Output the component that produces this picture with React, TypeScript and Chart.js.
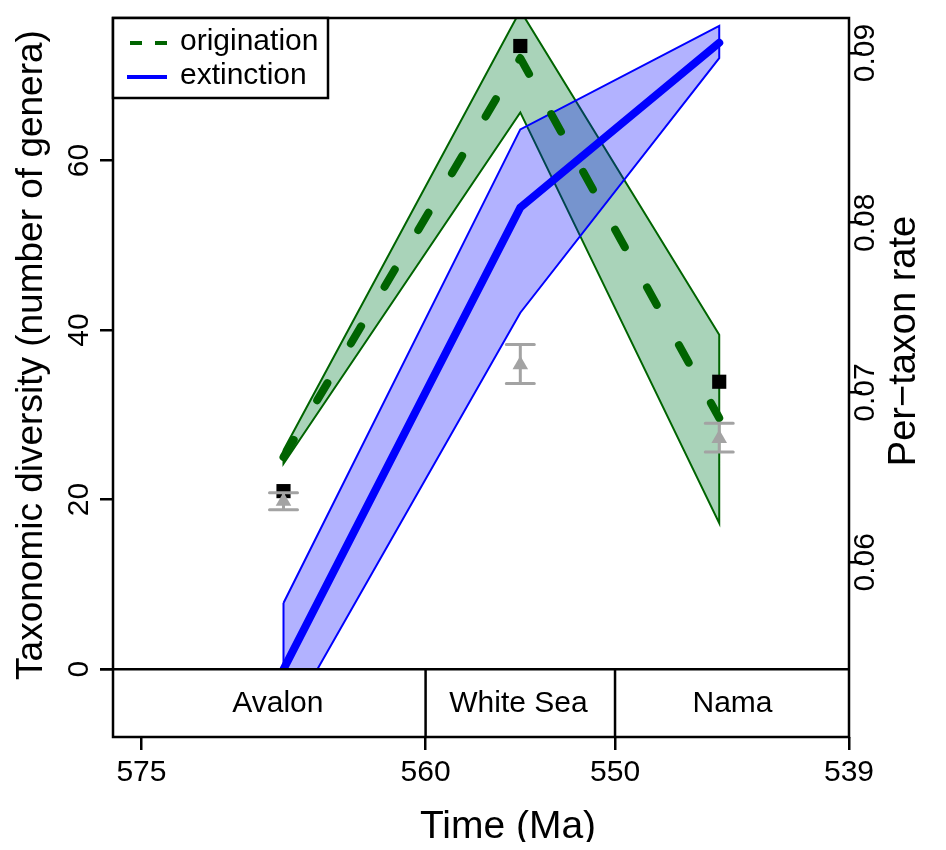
import React, { useEffect, useRef } from "react";
import { Chart, registerables } from "chart.js";

Chart.register(...registerables);

// ---------- data ----------
const stageNames = ["Avalon", "White Sea", "Nama"];
const stageBounds = [575, 560, 550, 539];
const stageLabelAt = [567.8, 555.1, 543.8];
const stageMid = [567.5, 555, 544.5];

const xTickValues = [575, 560, 550, 537.65];
const xTickLabels = ["575", "560", "550", "539"];
const leftTicks = [0, 20, 40, 60];
const rightTicks = [0.06, 0.07, 0.08, 0.09];
const rightTickLabels = ["0.06", "0.07", "0.08", "0.09"];

// per-taxon rates (right axis)
const originationRate = [0.0662, 0.0897, 0.0685];
const originationUpper = [0.0666, 0.0925, 0.0734];
const originationLower = [0.0658, 0.0865, 0.0623];
const extinctionRate = [0.0537, 0.0809, 0.0906];
const extinctionUpper = [0.0576, 0.0855, 0.0916];
const extinctionLower = [0.0502, 0.0747, 0.0897];

// diversity (left axis)
const observedGenera = [21.0, 73.5, 33.9];
const estimatedGenera = [19.8, 35.9, 27.2];
const estimatedLow = [18.8, 33.7, 25.6];
const estimatedHigh = [20.8, 38.3, 29.0];

const legendLabels = ["origination", "extinction"];

// ---------- styles ----------
const FONT = "'Liberation Sans', Arial, Helvetica, sans-serif";
const GREEN = "#006400";
const GREEN_FILL = "rgba(30,140,70,0.38)";
const BLUE = "#0000ff";
const BLUE_FILL = "rgba(0,0,255,0.3)";
const GREY = "#a3a3a3";

function polygon(upper: number[], lower: number[]) {
  const pts: { x: number; y: number }[] = stageMid.map((x, i) => ({ x, y: upper[i] }));
  for (let i = stageMid.length - 1; i >= 0; i--) pts.push({ x: stageMid[i], y: lower[i] });
  pts.push({ ...pts[0] });
  return pts;
}

const decorPlugin = {
  id: "decor",
  afterDatasetsDraw(chart: any) {
    const { ctx, chartArea: a, scales } = chart;
    const xs = scales.x;
    const yL = scales.y;
    const yR = scales.y1;
    ctx.save();

    // error bars
    ctx.strokeStyle = GREY;
    ctx.lineWidth = 3;
    ctx.lineCap = "round";
    stageMid.forEach((m, i) => {
      const px = xs.getPixelForValue(m);
      const t = yL.getPixelForValue(estimatedHigh[i]);
      const b = yL.getPixelForValue(estimatedLow[i]);
      ctx.beginPath();
      ctx.moveTo(px, t);
      ctx.lineTo(px, b);
      ctx.moveTo(px - 14, t);
      ctx.lineTo(px + 14, t);
      ctx.moveTo(px - 14, b);
      ctx.lineTo(px + 14, b);
      ctx.stroke();
    });
    ctx.lineCap = "butt";

    // stage band
    const y0 = yL.getPixelForValue(0);
    ctx.fillStyle = "#ffffff";
    ctx.fillRect(a.left, y0, a.right - a.left, a.bottom - y0);
    ctx.strokeStyle = "#000";
    ctx.lineWidth = 2.5;
    ctx.beginPath();
    ctx.moveTo(a.left - 13, y0);
    ctx.lineTo(a.right, y0);
    stageBounds.slice(1, -1).forEach((bv) => {
      const px = xs.getPixelForValue(bv);
      ctx.moveTo(px, y0);
      ctx.lineTo(px, a.bottom);
    });
    ctx.stroke();
    ctx.fillStyle = "#000";
    ctx.font = `30px ${FONT}`;
    ctx.textAlign = "center";
    ctx.textBaseline = "middle";
    stageNames.forEach((name, i) => {
      ctx.fillText(name, xs.getPixelForValue(stageLabelAt[i]), (y0 + a.bottom) / 2 + 1);
    });

    // frame
    ctx.strokeRect(a.left, a.top, a.right - a.left, a.bottom - a.top);

    // legend
    const lx = a.left, ly = a.top, lw = 215, lh = 80;
    ctx.fillStyle = "#fff";
    ctx.fillRect(lx, ly, lw, lh);
    ctx.strokeRect(lx, ly, lw, lh);
    ctx.lineWidth = 4;
    ctx.strokeStyle = GREEN;
    ctx.setLineDash([12, 13]);
    ctx.beginPath();
    ctx.moveTo(lx + 17, ly + 25);
    ctx.lineTo(lx + 54, ly + 25);
    ctx.stroke();
    ctx.setLineDash([]);
    ctx.strokeStyle = BLUE;
    ctx.beginPath();
    ctx.moveTo(lx + 14, ly + 59);
    ctx.lineTo(lx + 54, ly + 59);
    ctx.stroke();
    ctx.fillStyle = "#000";
    ctx.textAlign = "left";
    ctx.font = `30px ${FONT}`;
    ctx.fillText(legendLabels[0], lx + 67, ly + 24);
    ctx.fillText(legendLabels[1], lx + 67, ly + 58);

    // y tick labels (rotated, like R)
    ctx.textAlign = "center";
    ctx.textBaseline = "middle";
    leftTicks.forEach((v) => {
      const py = yL.getPixelForValue(v);
      ctx.save();
      ctx.translate(a.left - 33, py);
      ctx.rotate(-Math.PI / 2);
      ctx.fillText(String(v), 0, 0);
      ctx.restore();
    });
    rightTicks.forEach((v, i) => {
      const py = yR.getPixelForValue(v);
      ctx.save();
      ctx.translate(a.right + 17, py);
      ctx.rotate(-Math.PI / 2);
      ctx.fillText(rightTickLabels[i], 0, 0);
      ctx.restore();
    });

    // axis titles
    ctx.font = `37px ${FONT}`;
    ctx.save();
    ctx.translate(24, 347);
    ctx.rotate(-Math.PI / 2);
    ctx.fillText("Taxonomic diversity (number of genera)", 0, 0);
    ctx.restore();
    ctx.font = `38px ${FONT}`;
    ctx.save();
    ctx.translate(a.right + 56, 333);
    ctx.rotate(-Math.PI / 2);
    ctx.fillText("Per\u2212taxon rate", 0, 0);
    ctx.restore();
    ctx.font = `39px ${FONT}`;
    ctx.fillText("Time (Ma)", (a.left + a.right) / 2 + 27, chart.height - 15);

    ctx.restore();
  },
};

export default function App() {
  const ref = useRef<HTMLCanvasElement | null>(null);

  useEffect(() => {
    if (!ref.current) return;
    const tickGrid = {
      display: true,
      drawOnChartArea: false,
      drawTicks: true,
      tickLength: 13,
      color: "#000",
      lineWidth: 2.5,
    };
    const chart = new Chart(ref.current, {
      type: "line",
      data: {
        datasets: [
          {
            label: "estimated",
            data: stageMid.map((x, i) => ({ x, y: estimatedGenera[i] })),
            yAxisID: "y",
            showLine: false,
            pointStyle: "triangle",
            pointRadius: 9,
            pointBackgroundColor: GREY,
            pointBorderWidth: 0,
            pointBorderColor: GREY,
          },
          {
            label: "observed",
            data: stageMid.map((x, i) => ({ x, y: observedGenera[i] })),
            yAxisID: "y",
            showLine: false,
            pointStyle: "rect",
            pointRadius: 10,
            pointBackgroundColor: "#000",
            pointBorderWidth: 0,
            pointBorderColor: "#000",
          },
          {
            label: legendLabels[0],
            data: stageMid.map((x, i) => ({ x, y: originationRate[i] })),
            yAxisID: "y1",
            borderColor: GREEN,
            borderWidth: 8,
            borderDash: [20, 46],
            borderCapStyle: "round",
            borderJoinStyle: "round",
            pointRadius: 0,
            fill: false,
            tension: 0,
          },
          {
            label: legendLabels[1],
            data: stageMid.map((x, i) => ({ x, y: extinctionRate[i] })),
            yAxisID: "y1",
            borderColor: BLUE,
            borderWidth: 8,
            borderCapStyle: "round",
            borderJoinStyle: "round",
            pointRadius: 0,
            fill: false,
            tension: 0,
          },
          {
            label: "extinction band",
            data: polygon(extinctionUpper, extinctionLower),
            yAxisID: "y1",
            borderColor: BLUE,
            borderWidth: 2,
            backgroundColor: BLUE_FILL,
            fill: "shape",
            pointRadius: 0,
            tension: 0,
          },
          {
            label: "origination band",
            data: polygon(originationUpper, originationLower),
            yAxisID: "y1",
            borderColor: GREEN,
            borderWidth: 2,
            backgroundColor: GREEN_FILL,
            fill: "shape",
            pointRadius: 0,
            tension: 0,
          },
        ] as any,
      },
      options: {
        responsive: false,
        animation: false,
        devicePixelRatio: 1,
        layout: { padding: { top: 9, left: 0, right: 0, bottom: 0 } },
        plugins: { legend: { display: false }, tooltip: { enabled: false } },
        events: [],
        elements: { line: { clip: 0 } as any },
        scales: {
          x: {
            type: "linear",
            position: "bottom",
            reverse: true,
            min: 537.65,
            max: 576.5,
            grid: tickGrid,
            border: { display: false },
            afterBuildTicks: (s: any) => {
              s.ticks = xTickValues.map((v) => ({ value: v }));
            },
            afterFit: (s: any) => {
              s.height = 105;
            },
            ticks: {
              autoSkip: false,
              maxRotation: 0,
              minRotation: 0,
              padding: 5,
              color: "#000",
              font: { size: 30, family: FONT },
              callback: (_v: any, i: number) => xTickLabels[i],
            },
          },
          y: {
            type: "linear",
            position: "left",
            min: -8.0,
            max: 76.8,
            grid: tickGrid,
            border: { display: false },
            afterBuildTicks: (s: any) => {
              s.ticks = leftTicks.map((v) => ({ value: v }));
            },
            afterFit: (s: any) => {
              s.width = 105;
            },
            ticks: { display: false },
          },
          y1: {
            type: "linear",
            position: "right",
            min: 0.04971,
            max: 0.09206,
            grid: tickGrid,
            border: { display: false },
            afterBuildTicks: (s: any) => {
              s.ticks = rightTicks.map((v) => ({ value: v }));
            },
            afterFit: (s: any) => {
              s.width = 89;
            },
            ticks: { display: false },
          },
        },
      } as any,
      plugins: [decorPlugin],
    });
    return () => chart.destroy();
  }, []);

  return (
    <div style={{ width: 930, height: 834 }}>
      <canvas ref={ref} width={930} height={834} style={{ display: "block" }} />
    </div>
  );
}
